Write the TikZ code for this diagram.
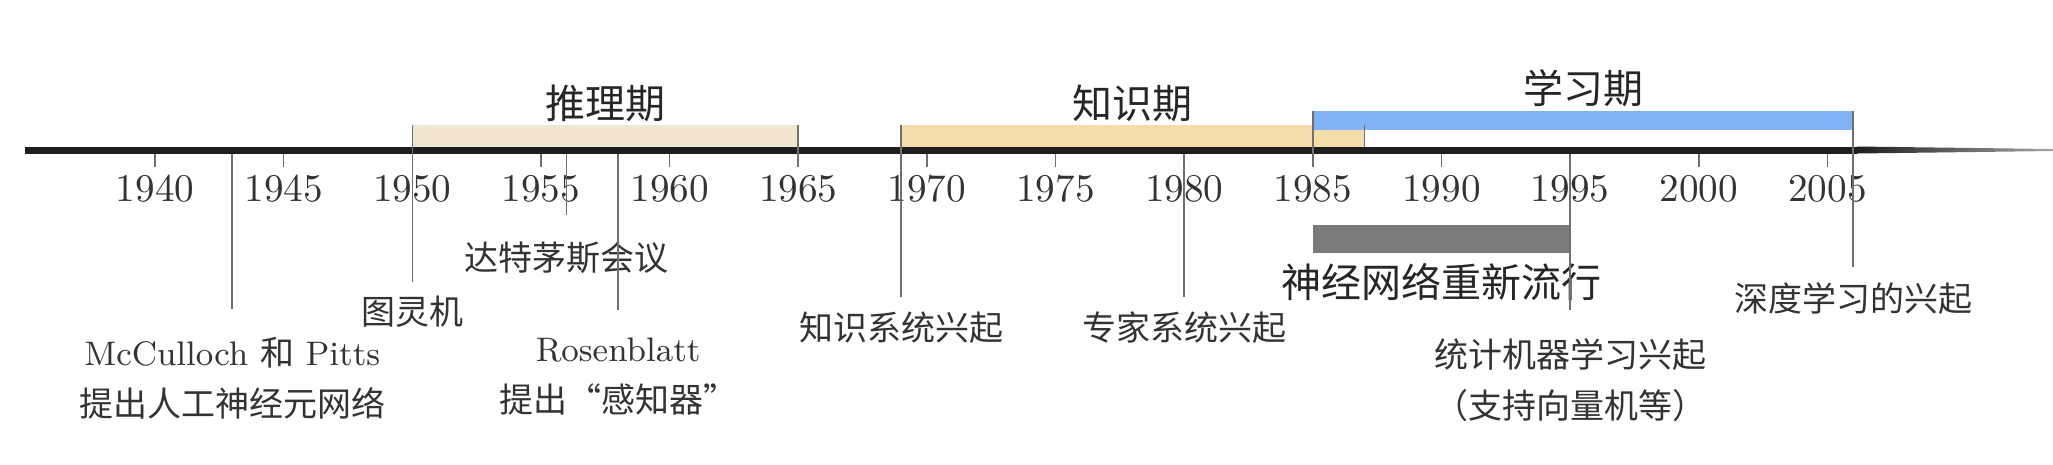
\documentclass[tikz,border=0pt]{standalone}
\usepackage{fontspec}
\newfontfamily\cjk{Noto Sans CJK SC}
\newcommand\zhtxt[1]{{\cjk #1}}
\definecolor{axiscol}{HTML}{1E1E1E}
\definecolor{reasoncol}{HTML}{F3E6CE}
\definecolor{knowcol}{HTML}{F3DDA9}
\definecolor{learncol}{HTML}{80B3F5}
\definecolor{nncol}{HTML}{7B7B7B}
\definecolor{linecol}{HTML}{707070}
\begin{document}
\begin{tikzpicture}[x=0.25pt,y=-0.25pt,
  declare function={yr(\t)=155+(\t-1940)*25.73;},
  yearlbl/.style={font=\fontsize{9.8}{12}\selectfont, text=black!80, inner sep=0},
  periodlbl/.style={font=\fontsize{10}{12}\selectfont\cjk, text=black!85, inner sep=0},
  eventlbl/.style={font=\fontsize{8.5}{12.75}\selectfont, align=center, text=black!80, inner sep=0},
  evline/.style={draw=linecol, line width=0.4pt},
  tickline/.style={draw=linecol, line width=0.4pt},
]
\useasboundingbox (0,0) rectangle (2053,464);

% period bars
\fill[reasoncol] ({yr(1950)},125) rectangle ({yr(1965)},146.5);
\fill[knowcol] ({yr(1969)},125) rectangle ({yr(1987)},146.5);
\fill[learncol] ({yr(1985)},111) rectangle ({yr(2006)},130);
\fill[nncol] ({yr(1985)},225) rectangle ({yr(1995)},253);

% period labels
\node[periodlbl] (reason) at ({yr(1957.5)},103) {推理期};
\node[periodlbl] (know) at ({yr(1978)},103) {知识期};
\node[periodlbl] (learn) at ({yr(1995.5)},88) {学习期};
\node[periodlbl] (nn) at ({yr(1990)},282) {神经网络重新流行};

% axis
\coordinate (axL) at (25,150);
\coordinate (axM) at (1857,150);
\draw[axiscol, line width=1.75pt] (axL) -- (axM);
\shade[left color=axiscol, right color=black!35] (1857,146.5) -- (2053,149) -- (2053,151) -- (1857,153.5) -- cycle;

% ticks and year labels
\foreach \y in {1940,1945,...,2005}{
  \draw[tickline] ({yr(\y)},154) coordinate (tk\y) -- ({yr(\y)},167);
  \node[yearlbl] (yl\y) at ({yr(\y)},189) {\y};
}

% bar edge lines
\draw[evline] ({yr(1965)},125) -- ({yr(1965)},167);
\draw[evline] ({yr(1987)},125) -- ({yr(1987)},146.5);
\draw[evline] ({yr(1985)},111) -- ({yr(1985)},167);

% events
\coordinate (e1943) at ({yr(1943)},154);
\coordinate (e1943b) at ({yr(1943)},309);
\draw[evline] (e1943) -- (e1943b);
\node[eventlbl] (mp) at ({yr(1943)},378) {McCulloch \zhtxt{和} Pitts\\\zhtxt{提出人工神经元网络}};

\coordinate (e1950) at ({yr(1950)},125);
\coordinate (e1950b) at ({yr(1950)},282);
\draw[evline] (e1950) -- (e1950b);
\node[eventlbl] (turing) at ({yr(1950)},312) {\zhtxt{图灵机}};

\coordinate (e1956) at ({yr(1956)},154);
\coordinate (e1956b) at ({yr(1956)},215);
\draw[evline] (e1956) -- (e1956b);
\node[eventlbl] (dart) at ({yr(1956)},258) {\zhtxt{达特茅斯会议}};

\coordinate (e1958) at ({yr(1958)},154);
\coordinate (e1958b) at ({yr(1958)},310);
\draw[evline] (e1958) -- (e1958b);
\node[eventlbl] (rosen) at ({yr(1958)},377) {Rosenblatt\\\zhtxt{提出“感知器”}};

\coordinate (e1969) at ({yr(1969)},125);
\coordinate (e1969b) at ({yr(1969)},297);
\draw[evline] (e1969) -- (e1969b);
\node[eventlbl] (ks) at ({yr(1969)},328) {\zhtxt{知识系统兴起}};

\coordinate (e1980) at ({yr(1980)},154);
\coordinate (e1980b) at ({yr(1980)},297);
\draw[evline] (e1980) -- (e1980b);
\node[eventlbl] (es) at ({yr(1980)},328) {\zhtxt{专家系统兴起}};

\coordinate (e1995) at ({yr(1995)},154);
\coordinate (e1995b) at ({yr(1995)},310);
\draw[evline] (e1995) -- (e1995b);
\node[eventlbl] (sml) at ({yr(1995)},380) {\zhtxt{统计机器学习兴起}\\\zhtxt{（支持向量机等）}};

\coordinate (e2006) at ({yr(2006)},111);
\coordinate (e2006b) at ({yr(2006)},267);
\draw[evline] (e2006) -- (e2006b);
\node[eventlbl] (dl) at ({yr(2006)},299) {\zhtxt{深度学习的兴起}};
\end{tikzpicture}
\end{document}
